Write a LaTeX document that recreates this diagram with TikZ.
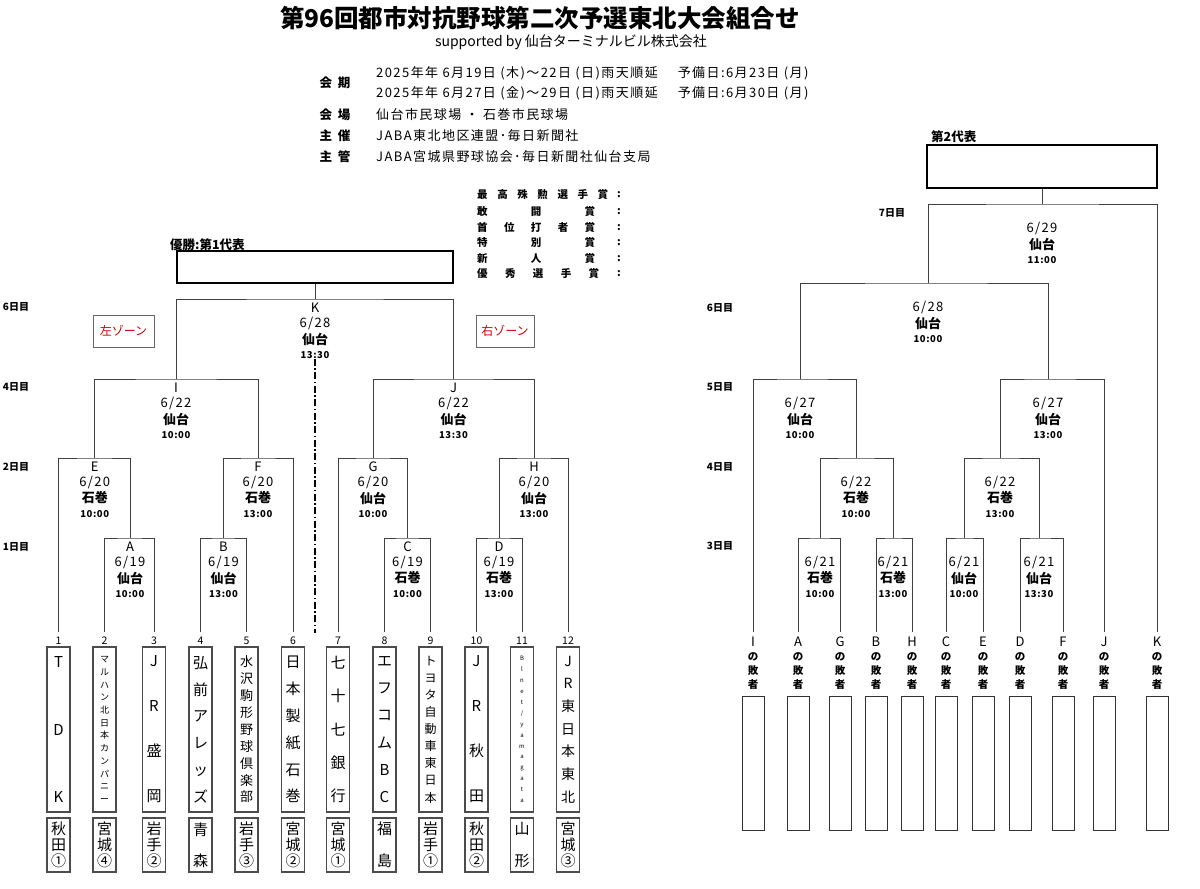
\documentclass[tikz,border=0pt]{standalone}
\usepackage{fontspec}
\setmainfont{Noto Sans CJK JP}
\usetikzlibrary{calc}

% stack the characters of a name one under the other, or side by side
\def\gobbleone#1{}
\def\firstone#1{#1}
\def\vst#1#2{#1\ifx\relax#2\expandafter\gobbleone\else\par\vfill\expandafter\firstone\fi{\vst#2}}
\def\hst#1#2{#1\ifx\relax#2\expandafter\gobbleone\else\hfill\expandafter\firstone\fi{\hst#2}}
\newcommand\vstack[3]{\parbox[c][#2pt][s]{21pt}{\centering\fontsize{#1}{#1}\selectfont\vst#3\relax}}

\tikzset{
    title/.style={font=\bfseries\fontsize{24.5}{24.5}\selectfont, inner sep=0pt},
    sponsor/.style={font=\fontsize{14}{14}\selectfont, inner sep=0pt},
    infohead/.style={font=\bfseries\fontsize{12.5}{12.5}\selectfont, inner sep=0pt},
    info/.style={font=\fontsize{13}{13}\selectfont\addfontfeature{LetterSpace=11}, anchor=west, inner sep=0pt},
    award/.style={font=\bfseries\fontsize{10.5}{10.5}\selectfont, inner sep=0pt},
    day/.style={font=\bfseries\fontsize{10}{10}\selectfont, inner sep=0pt},
    winbox/.style={draw, line width=2pt, inner sep=0pt},
    winlabel/.style={font=\bfseries\fontsize{12.5}{12.5}\selectfont, anchor=west, inner sep=0pt},
    zone/.style={draw=black!60, line width=0.9pt, minimum height=32pt, inner sep=0pt, text=red!80!black, font=\fontsize{12}{12}\selectfont},
    bline/.style={line width=1pt, black!75},
    divider/.style={line width=1.8pt, dash pattern=on 7pt off 2.5pt on 1.5pt off 2.5pt},
    mletter/.style={font=\fontsize{13}{13}\selectfont, inner sep=0pt},
    mdate/.style={font=\fontsize{13}{13}\selectfont\addfontfeature{LetterSpace=10}, inner sep=0pt},
    mvenue/.style={font=\bfseries\fontsize{13}{13}\selectfont, inner sep=0pt},
    mtime/.style={font=\bfseries\fontsize{9.5}{9.5}\selectfont\addfontfeature{LetterSpace=6}, inner sep=0pt},
    num/.style={font=\fontsize{10.5}{10.5}\selectfont, inner sep=0pt},
    tbox/.style={draw=black!70, line width=1.3pt, minimum width=23pt, minimum height=165pt, inner sep=0pt},
    pbox/.style={draw=black!70, line width=1.3pt, minimum width=23pt, minimum height=54pt, inner sep=0pt},
    lbox/.style={draw=black!80, line width=0.9pt, minimum width=22pt, minimum height=134pt, inner sep=0pt},
    loser/.style={font=\bfseries\fontsize{10.5}{14}\selectfont, align=center, inner sep=0pt}
}

% match label under a bar
\newcommand\mlabel[5]{%
  \node[mletter] (#1-l) at ($(#1)+(0,9)$) {#2};
  \node[mdate] (#1-d) at ($(#1)+(0,24)$) {#3};
  \node[mvenue] (#1-v) at ($(#1)+(0,40)$) {#4};
  \node[mtime] (#1-t) at ($(#1)+(0,56)$) {#5};}
\newcommand\rlabel[4]{%
  \node[mdate] (#1-d) at ($(#1)+(0,24)$) {#2};
  \node[mvenue] (#1-v) at ($(#1)+(0,40)$) {#3};
  \node[mtime] (#1-t) at ($(#1)+(0,56)$) {#4};}
% team column: number, x, font size, name, prefecture
\newcommand\team[5]{%
  \coordinate (t#1) at (#2,632);
  \node[num] (n#1) at (#2,641) {#1};
  \node[tbox] (b#1) at (#2,729.5) {\vstack{#3}{146}{#4}};
  \node[pbox] (p#1) at (#2,845) {\vstack{15}{44}{#5}};}
% loser column on the right
\newcommand\loser[2]{%
  \coordinate (l#1) at (#2,632);
  \node[mletter] (ln#1) at (#2,642) {#1};
  \node[loser] (lt#1) at (#2,671) {の\\敗\\者};
  \node[lbox] (lb#1) at (#2,763) {};}

\begin{document}
\begin{tikzpicture}[x=1pt, y=-1pt]
\useasboundingbox (0,0) rectangle (1200,889);

% header
\node[title] (title) at (540,18) {第96回都市対抗野球第二次予選東北大会組合せ};
\node[sponsor] (sponsor) at (571,42) {supported by 仙台ターミナルビル株式会社};
\node[infohead] (h1) at (335,83) {会\ \ 期};
\node[infohead] (h2) at (335,115) {会\ \ 場};
\node[infohead] (h3) at (335,136) {主\ \ 催};
\node[infohead] (h4) at (335,157) {主\ \ 管};
\node[info] (i1) at (376,73) {2025年年 6月19日 (木)～22日 (日)雨天順延\hspace{20pt}予備日:6月23日 (月)};
\node[info] (i2) at (376,93) {2025年年 6月27日 (金)～29日 (日)雨天順延\hspace{20pt}予備日:6月30日 (月)};
\node[info] (i3) at (376,115) {仙台市民球場\ ・\ 石巻市民球場};
\node[info] (i4) at (376,136) {JABA東北地区連盟･毎日新聞社};
\node[info] (i5) at (376,157) {JABA宮城県野球協会･毎日新聞社仙台支局};

% awards
\foreach \y/\w/\t [count=\i] in {195/131/最高殊勲選手賞, 212/118/敢闘賞, 228/118/首位打者賞,
    243/118/特別賞, 259/118/新人賞, 274/122/優秀選手賞} {
  \node[award, anchor=west] (aw\i) at (477,\y) {\makebox[\w pt][s]{\expandafter\hst\t\relax}};
  \node[award] (ac\i) at (619,\y) {:};
}

% left side: first representative
\node[day] (d6) at (16,307) {6日目};
\node[day] (d4) at (16,387) {4日目};
\node[day] (d2) at (16,467) {2日目};
\node[day] (d1) at (16,547) {1日目};
\node[winlabel] (wl) at (170,245) {優勝:第1代表};
\node[winbox, minimum width=276pt, minimum height=32pt] (win) at (315,267) {};
\node[zone, minimum width=61pt] (zl) at (123.5,331) {左ゾーン};
\node[zone, minimum width=58pt] (zr) at (505,331) {右ゾーン};

\coordinate (K) at (315,299);
\coordinate (I) at (176,379);
\coordinate (J) at (453.5,379);
\coordinate (E) at (94.75,458);
\coordinate (F) at (258,458);
\coordinate (G) at (373,458);
\coordinate (H) at (534,458);
\coordinate (A) at (130,538);
\coordinate (B) at (223.5,538);
\coordinate (C) at (407.5,538);
\coordinate (D) at (499,538);

\team{1}{58.5}{15}{TDK}{秋田①}
\team{2}{104.5}{9}{マルハン北日本カンパニー}{宮城④}
\team{3}{154}{15}{JR盛岡}{岩手②}
\team{4}{200.5}{15}{弘前アレッズ}{青森}
\team{5}{246.5}{13}{水沢駒形野球倶楽部}{岩手③}
\team{6}{293}{15}{日本製紙石巻}{宮城②}
\team{7}{338}{15}{七十七銀行}{宮城①}
\team{8}{384.5}{15}{エフコムBC}{福島}
\team{9}{430.5}{12}{トヨタ自動車東日本}{岩手①}
\team{10}{476.5}{15}{JR秋田}{秋田②}
\team{11}{522}{6}{Blnet/yamagata}{山形}
\team{12}{568}{14}{JR東日本東北}{宮城③}

\draw[bline] (t2) |- (A) -| (t3);
\draw[bline] (t4) |- (B) -| (t5);
\draw[bline] (t8) |- (C) -| (t9);
\draw[bline] (t10) |- (D) -| (t11);
\draw[bline] (t1) |- (E) -| (A);
\draw[bline] (B) |- (F) -| (t6);
\draw[bline] (t7) |- (G) -| (C);
\draw[bline] (D) |- (H) -| (t12);
\draw[bline] (E) |- (I) -| (F);
\draw[bline] (G) |- (J) -| (H);
\draw[bline] (I) |- (K) -| (J);
\draw[bline] (K) -- (win);

\mlabel{K}{K}{6/28}{仙台}{13:30}
\mlabel{I}{I}{6/22}{仙台}{10:00}
\mlabel{J}{J}{6/22}{仙台}{13:30}
\mlabel{E}{E}{6/20}{石巻}{10:00}
\mlabel{F}{F}{6/20}{石巻}{13:00}
\mlabel{G}{G}{6/20}{仙台}{10:00}
\mlabel{H}{H}{6/20}{仙台}{13:00}
\mlabel{A}{A}{6/19}{仙台}{10:00}
\mlabel{B}{B}{6/19}{仙台}{13:00}
\mlabel{C}{C}{6/19}{石巻}{10:00}
\mlabel{D}{D}{6/19}{石巻}{13:00}

\coordinate (div) at (315,633);
\draw[divider] (K-t.south) -- (div);

% right side: second representative
\node[day] (r7) at (892,213) {7日目};
\node[day] (r6) at (720,308) {6日目};
\node[day] (r5) at (720,387) {5日目};
\node[day] (r4) at (720,467) {4日目};
\node[day] (r3) at (720,546) {3日目};
\node[winlabel] (wl2) at (931,137) {第2代表};
\node[winbox, minimum width=230pt, minimum height=43pt] (win2) at (1042,166.5) {};

\coordinate (R7) at (1042,204);
\coordinate (R6) at (928,283);
\coordinate (R5a) at (800,379);
\coordinate (R5b) at (1048,379);
\coordinate (R4a) at (856,458);
\coordinate (R4b) at (1000,458);
\coordinate (R3a) at (820,538);
\coordinate (R3b) at (893,538);
\coordinate (R3c) at (964,538);
\coordinate (R3d) at (1039,538);

\loser{I}{753}
\loser{A}{798}
\loser{G}{840}
\loser{B}{876}
\loser{H}{912}
\loser{C}{946}
\loser{E}{983}
\loser{D}{1020}
\loser{F}{1063}
\loser{J}{1104}
\loser{K}{1157}

\draw[bline] (lA) |- (R3a) -| (lG);
\draw[bline] (lB) |- (R3b) -| (lH);
\draw[bline] (lC) |- (R3c) -| (lE);
\draw[bline] (lD) |- (R3d) -| (lF);
\draw[bline] (R3a) |- (R4a) -| (R3b);
\draw[bline] (R3c) |- (R4b) -| (R3d);
\draw[bline] (lI) |- (R5a) -| (R4a);
\draw[bline] (R4b) |- (R5b) -| (lJ);
\draw[bline] (R5a) |- (R6) -| (R5b);
\draw[bline] (R6) |- (R7) -| (lK);
\draw[bline] (R7) -- (win2);

\rlabel{R7}{6/29}{仙台}{11:00}
\rlabel{R6}{6/28}{仙台}{10:00}
\rlabel{R5a}{6/27}{仙台}{10:00}
\rlabel{R5b}{6/27}{仙台}{13:00}
\rlabel{R4a}{6/22}{石巻}{10:00}
\rlabel{R4b}{6/22}{石巻}{13:00}
\rlabel{R3a}{6/21}{石巻}{10:00}
\rlabel{R3b}{6/21}{石巻}{13:00}
\rlabel{R3c}{6/21}{仙台}{10:00}
\rlabel{R3d}{6/21}{仙台}{13:30}
\end{tikzpicture}
\end{document}
